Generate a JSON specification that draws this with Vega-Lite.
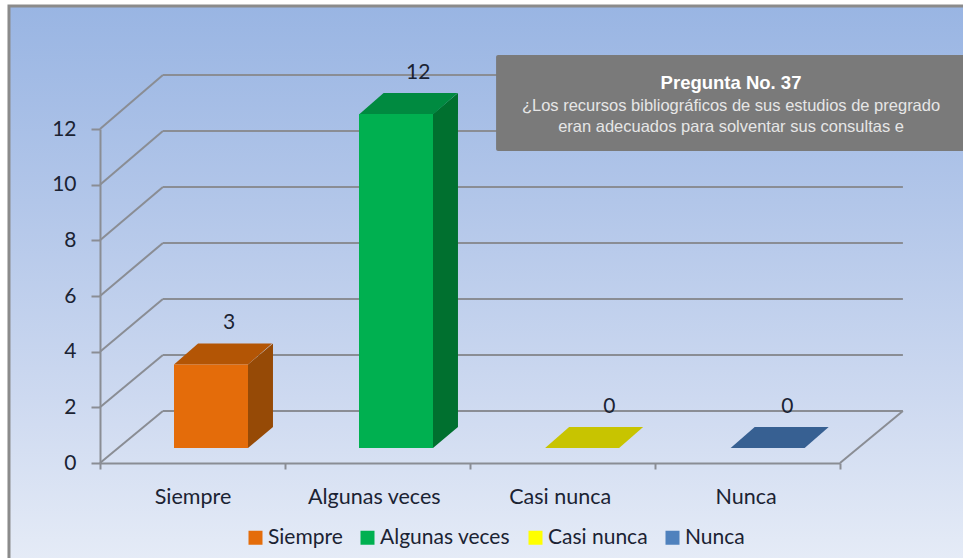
{
"$schema":"https://vega.github.io/schema/vega-lite/v6.json",
"width":740,"height":334,
"autosize":{"type":"none"},
"padding":{"left":100,"top":129,"right":123,"bottom":95},
"background":"#ffffff",
"config":{"view":{"stroke":null}},
"datasets":{
"respuestas":[
{"categoria":"Siempre","valor":3},
{"categoria":"Algunas veces","valor":12},
{"categoria":"Casi nunca","valor":0},
{"categoria":"Nunca","valor":0}],
"niveles":[{"nivel":0},{"nivel":2},{"nivel":4},{"nivel":6},{"nivel":8},{"nivel":10},{"nivel":12}],
"base":[{"n":1}]
},
"layer":[
{"data":{"name":"base"},
"transform":[{"calculate":"-0.492","as":"a"},{"calculate":"4.75","as":"b"},{"calculate":"16.42","as":"c"},{"calculate":"-3.7","as":"d"}],
"mark":{"type":"rect","stroke":"#8b8b8b","strokeWidth":3,"fill":{"gradient":"linear","x1":0,"y1":0,"x2":0,"y2":1,"stops":[{"offset":0,"color":"#99b5e3"},{"offset":0.35,"color":"#b2c6e9"},{"offset":0.7,"color":"#cdd9f0"},{"offset":1,"color":"#e6ecf7"}]}},
"encoding":{
"x":{"field":"a","type":"quantitative","scale":{"domain":[0,4],"nice":false,"zero":false},
"axis":{"zindex":1,"title":null,"grid":false,"values":[0,0.5,1,1.48,2,2.485,3,3.49,4],"labelExpr":"datum.value==0.5?'Siempre':datum.value==1.48?'Algunas veces':datum.value==2.485?'Casi nunca':datum.value==3.49?'Nunca':''","labelFont":"Lato","labelFontSize":21.5,"labelColor":"#1b2333","labelPadding":17,"labelOverlap":false,"labelFlush":false,"tickSize":6,"tickWidth":2,"tickColor":"#8a8d94","tickOpacity":{"condition":{"test":"datum.value % 1 != 0","value":0},"value":1},"domainColor":"#8a8d94","domainWidth":2}},
"x2":{"field":"b"},
"y":{"field":"c","type":"quantitative","scale":{"domain":[0,12],"nice":false,"zero":false},
"axis":{"zindex":1,"title":null,"grid":false,"values":[0,2,4,6,8,10,12],"labelFont":"Lato","labelFontSize":21,"labelColor":"#1b2333","labelPadding":15,"tickSize":9,"tickWidth":2,"tickColor":"#8a8d94","domainColor":"#8a8d94","domainWidth":2,"labelFlush":false,"labelOverlap":false}},
"y2":{"field":"d"}}},
{"data":{"name":"niveles"},
"transform":[{"calculate":"datum.nivel*1.006+1.87","as":"fondo"},{"calculate":"0","as":"a"},{"calculate":"0.34","as":"b"}],
"mark":{"type":"rule","color":"#8a8d94","strokeWidth":2},
"encoding":{"x":{"field":"a","type":"quantitative"},"x2":{"field":"b"},"y":{"field":"nivel","type":"quantitative"},"y2":{"field":"fondo"}}},
{"data":{"name":"niveles"},
"transform":[{"calculate":"datum.nivel*1.006+1.87","as":"fondo"},{"calculate":"0.34","as":"a"},{"calculate":"4.34","as":"b"}],
"mark":{"type":"rule","color":"#8a8d94","strokeWidth":2},
"encoding":{"x":{"field":"a","type":"quantitative"},"x2":{"field":"b"},"y":{"field":"fondo","type":"quantitative"}}},
{"data":{"name":"base"},
"transform":[{"calculate":"4","as":"a"},{"calculate":"4.34","as":"b"},{"calculate":"0","as":"c"},{"calculate":"1.87","as":"d"}],
"mark":{"type":"rule","color":"#8a8d94","strokeWidth":2},
"encoding":{"x":{"field":"a","type":"quantitative"},"x2":{"field":"b"},"y":{"field":"c","type":"quantitative"},"y2":{"field":"d"}}},
{"data":{"name":"respuestas"},
"transform":[
{"calculate":"indexof(['Siempre','Algunas veces','Casi nunca','Nunca'],datum.categoria)","as":"orden"},
{"calculate":"[0,1]","as":"p"},{"flatten":["p"]},
{"calculate":"datum.orden+0.8+datum.p*0.135","as":"xs"},
{"calculate":"0.54+datum.p*0.755","as":"yb"},
{"calculate":"datum.yb+datum.valor","as":"yt"},
{"calculate":"{'Siempre':'#964a06','Algunas veces':'#00702f','Casi nunca':'#8f8c00','Nunca':'#2a4a70'}[datum.categoria]","as":"tono"}],
"mark":{"type":"area","orient":"vertical"},
"encoding":{"x":{"field":"xs","type":"quantitative"},"y":{"field":"yb","type":"quantitative"},"y2":{"field":"yt"},"detail":{"field":"categoria"},"fill":{"field":"tono","type":"nominal","scale":null,"legend":null}}},
{"data":{"name":"respuestas"},
"transform":[
{"calculate":"indexof(['Siempre','Algunas veces','Casi nunca','Nunca'],datum.categoria)","as":"orden"},
{"calculate":"[0,1]","as":"p"},{"flatten":["p"]},
{"calculate":"datum.orden+0.4+datum.orden*0.003+datum.p*0.13","as":"xi"},
{"calculate":"datum.xi+0.4","as":"xf"},
{"calculate":"datum.valor+0.54+datum.p*0.755","as":"yv"},
{"calculate":"{'Siempre':'#b35505','Algunas veces':'#008a40','Casi nunca':'#c8c400','Nunca':'#376092'}[datum.categoria]","as":"tono"}],
"mark":{"type":"area","orient":"horizontal"},
"encoding":{"y":{"field":"yv","type":"quantitative"},"x":{"field":"xi","type":"quantitative"},"x2":{"field":"xf"},"detail":{"field":"categoria"},"fill":{"field":"tono","type":"nominal","scale":null,"legend":null}}},
{"data":{"name":"respuestas"},
"transform":[
{"calculate":"indexof(['Siempre','Algunas veces','Casi nunca','Nunca'],datum.categoria)","as":"orden"},
{"calculate":"datum.orden+0.4","as":"xi"},
{"calculate":"datum.xi+0.4","as":"xf"},
{"calculate":"0.54","as":"yb"},
{"calculate":"datum.valor+0.54","as":"yt"}],
"mark":{"type":"rect"},
"encoding":{"x":{"field":"xi","type":"quantitative"},"x2":{"field":"xf"},"y":{"field":"yb","type":"quantitative"},"y2":{"field":"yt"},
"color":{"field":"categoria","type":"nominal","scale":{"domain":["Siempre","Algunas veces","Casi nunca","Nunca"],"range":["#e46c0a","#00b050","#ffff00","#4f81bd"]},
"legend":{"title":null,"orient":"none","legendX":145,"legendY":398,"direction":"horizontal","columns":4,"symbolType":"square","symbolSize":196,"symbolStrokeWidth":0,"labelFont":"Lato","labelFontSize":21,"labelColor":"#1b2333","labelOffset":2,"columnPadding":14,"symbolOpacity":1}}}},
{"data":{"name":"respuestas"},
"transform":[
{"calculate":"indexof(['Siempre','Algunas veces','Casi nunca','Nunca'],datum.categoria)","as":"orden"},
{"calculate":"datum.orden+0.65+{'Siempre':0.005,'Algunas veces':0.027,'Casi nunca':0.06,'Nunca':0.022}[datum.categoria]","as":"xe"},
{"calculate":"datum.valor+1.295","as":"ye"}],
"mark":{"type":"text","font":"Lato","fontSize":21,"color":"#1b2333","dx":8,"dy":-20,"baseline":"middle"},
"encoding":{"x":{"field":"xe","type":"quantitative"},"y":{"field":"ye","type":"quantitative"},"text":{"field":"valor","type":"quantitative"}}},
{"data":{"name":"base"},
"transform":[{"calculate":"2.141","as":"a"},{"calculate":"4.75","as":"b"},{"calculate":"14.66","as":"c"},{"calculate":"11.21","as":"d"}],
"mark":{"type":"rect","fill":"#7a7a7a","cornerRadius":2},
"encoding":{"x":{"field":"a","type":"quantitative"},"x2":{"field":"b"},"y":{"field":"c","type":"quantitative"},"y2":{"field":"d"}}},
{"data":{"name":"base"},
"transform":[{"calculate":"3.411","as":"a"},{"calculate":"13.65","as":"c"}],
"mark":{"type":"text","text":"Pregunta No. 37","font":"Liberation Sans","fontWeight":"bold","fontSize":18.5,"color":"#ffffff","baseline":"middle"},
"encoding":{"x":{"field":"a","type":"quantitative"},"y":{"field":"c","type":"quantitative"}}},
{"data":{"name":"base"},
"transform":[{"calculate":"3.411","as":"a"},{"calculate":"12.83","as":"c"}],
"mark":{"type":"text","text":"¿Los recursos bibliográficos de sus estudios de pregrado","font":"Liberation Sans","fontSize":16.5,"color":"#e6e6e6","baseline":"middle"},
"encoding":{"x":{"field":"a","type":"quantitative"},"y":{"field":"c","type":"quantitative"}}},
{"data":{"name":"base"},
"transform":[{"calculate":"3.411","as":"a"},{"calculate":"12.07","as":"c"}],
"mark":{"type":"text","text":"eran adecuados para solventar sus consultas e","font":"Liberation Sans","fontSize":16.5,"color":"#e6e6e6","baseline":"middle"},
"encoding":{"x":{"field":"a","type":"quantitative"},"y":{"field":"c","type":"quantitative"}}}
]
}
